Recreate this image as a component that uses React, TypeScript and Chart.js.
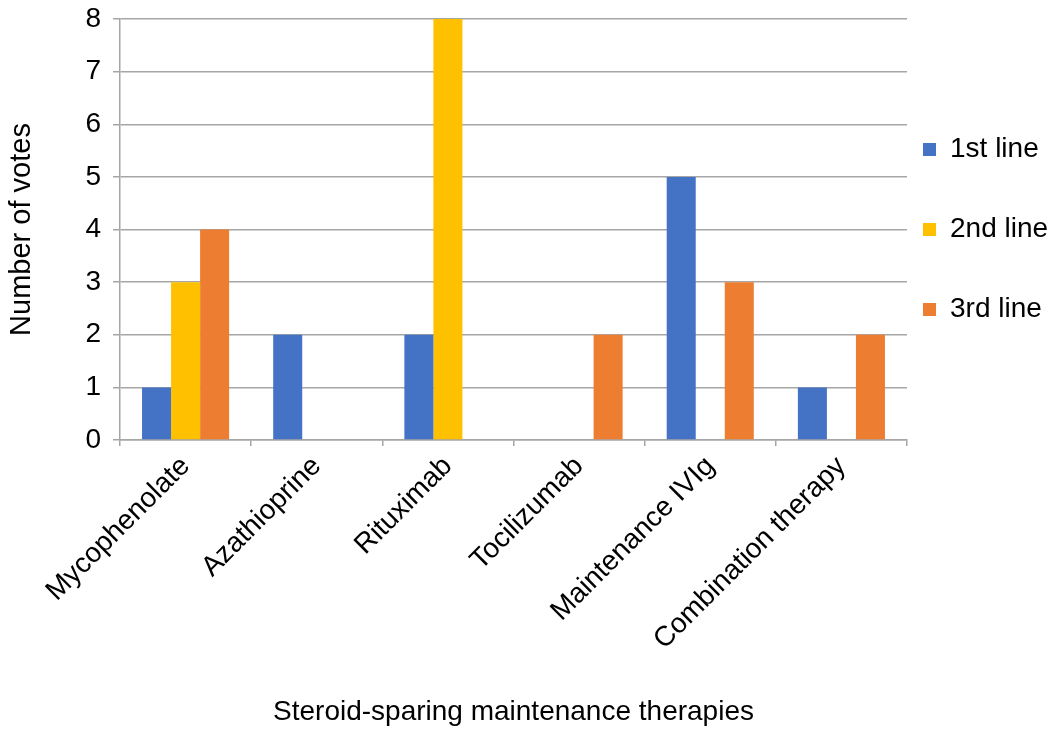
import React, { useEffect, useRef } from "react";
import { Chart, registerables } from "chart.js";

Chart.register(...registerables);

const categories = [
  "Mycophenolate",
  "Azathioprine",
  "Rituximab",
  "Tocilizumab",
  "Maintenance IVIg",
  "Combination therapy",
];
const seriesNames = ["1st line", "2nd line", "3rd line"];
const firstLine = [1, 2, 2, 0, 5, 1];
const secondLine = [3, 0, 8, 0, 0, 0];
const thirdLine = [4, 0, 0, 2, 3, 2];
const seriesColors = ["#4472C4", "#FFC000", "#ED7D31"];
const yMin = 0;
const yMax = 8;
const yStep = 1;
const xTitle = "Steroid-sparing maintenance therapies";
const yTitle = "Number of votes";

const FONT = "'Liberation Sans', Arial, Helvetica, sans-serif";
const GRID = "#A6A6A6";

export default function App() {
  const ref = useRef<HTMLCanvasElement | null>(null);

  useEffect(() => {
    if (!ref.current) return;
    Chart.defaults.font.family = FONT;
    Chart.defaults.color = "#000";
    const values = [firstLine, secondLine, thirdLine];
    const chart = new Chart(ref.current, {
      type: "bar",
      data: {
        labels: categories,
        datasets: seriesNames.map((name, i) => ({
          label: name,
          data: values[i],
          backgroundColor: seriesColors[i],
          borderWidth: 0,
          categoryPercentage: 0.664,
          barPercentage: 1,
        })),
      },
      options: {
        responsive: false,
        animation: false,
        layout: { padding: { top: 19, left: 0, right: 0, bottom: 0 } },
        plugins: {
          tooltip: { enabled: false },
          legend: {
            position: "right",
            fullSize: false,
            align: "center",
            maxWidth: 143,
            title: {
              display: true,
              text: " ",
              font: { size: 10, lineHeight: "36px" },
              padding: 0,
            },
            labels: {
              boxWidth: 13,
              boxHeight: 13,
              padding: 16,
              color: "#000",
              font: { size: 28, lineHeight: "64px" },
              generateLabels: (c: any) =>
                Chart.defaults.plugins.legend.labels
                  .generateLabels(c)
                  .map((l: any) => ({ ...l, text: [l.text], lineWidth: 0 })),
            },
          },
        },
        scales: {
          x: {
            grid: {
              display: true,
              drawOnChartArea: false,
              drawTicks: true,
              tickLength: 6,
              color: GRID,
              lineWidth: 1.5,
              offset: true,
            },
            border: { display: true, color: GRID, width: 1.5 },
            ticks: {
              autoSkip: false,
              minRotation: 45,
              maxRotation: 45,
              padding: 4,
              color: "#000",
              font: { size: 28 },
            },
            title: {
              display: true,
              text: xTitle,
              color: "#000",
              font: { size: 28 },
              padding: { top: 0, bottom: 8 },
            },
            afterFit: (s: any) => {
              s.height = 297;
            },
          },
          y: {
            min: yMin,
            max: yMax,
            ticks: {
              stepSize: yStep,
              padding: 12,
              color: "#000",
              font: { size: 28, lineHeight: "14px" },
            },
            grid: { color: GRID, lineWidth: 1.5, tickLength: 7 },
            border: { display: true, color: GRID, width: 1.5 },
            title: {
              display: true,
              text: yTitle,
              color: "#000",
              font: { size: 29 },
              padding: { top: 5, bottom: 0 },
            },
            afterFit: (s: any) => {
              s.width = 120;
            },
          },
        },
      },
    });
    return () => chart.destroy();
  }, []);

  return (
    <div style={{ position: "absolute", left: 0, top: 0, width: 1050, height: 737, background: "#fff" }}>
      <canvas ref={ref} width={1050} height={737} style={{ display: "block" }} />
    </div>
  );
}
